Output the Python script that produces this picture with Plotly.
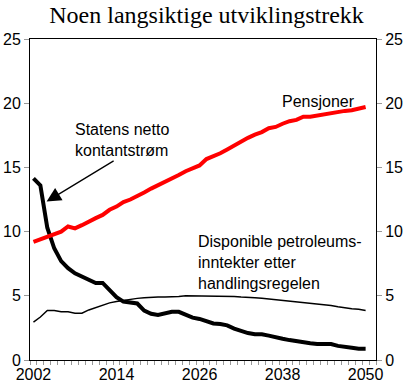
import plotly.graph_objects as go

years = list(range(2002, 2051))

pensjoner = [9.2, 9.4, 9.6, 9.8, 10.0, 10.4, 10.25, 10.5, 10.8, 11.05,
             11.3, 11.7, 11.95, 12.3, 12.5, 12.75, 13.05, 13.35, 13.6, 13.9,
             14.15, 14.4, 14.7, 14.95, 15.15, 15.65, 15.85, 16.1, 16.4, 16.7,
             17.05, 17.3, 17.55, 17.75, 18.05, 18.15, 18.4, 18.6, 18.7, 18.95,
             18.95, 19.05, 19.15, 19.25, 19.35, 19.4, 19.45, 19.6, 19.7]

statens_netto = [14.15, 13.6, 10.3, 8.7, 7.7, 7.15, 6.75, 6.5, 6.25, 6.0,
                 6.0, 5.5, 4.9, 4.55, 4.5, 4.4, 3.85, 3.6, 3.5, 3.65,
                 3.75, 3.75, 3.5, 3.3, 3.2, 3.05, 2.85, 2.8, 2.7, 2.45,
                 2.25, 2.1, 2.0, 2.0, 1.9, 1.75, 1.65, 1.55, 1.45, 1.4,
                 1.3, 1.25, 1.25, 1.25, 1.1, 1.0, 0.95, 0.88, 0.88]

disponible = [2.95, 3.35, 3.85, 3.85, 3.75, 3.75, 3.65, 3.65, 3.9, 4.1,
              4.3, 4.45, 4.55, 4.65, 4.75, 4.8, 4.85, 4.9, 4.9, 4.9,
              4.9, 4.95, 5.0, 5.0, 5.0, 5.0, 5.0, 5.0, 5.0, 4.95,
              4.9, 4.9, 4.85, 4.8, 4.75, 4.7, 4.65, 4.6, 4.55, 4.45,
              4.4, 4.4, 4.3, 4.25, 4.15, 4.05, 4.0, 3.95, 3.85]

x_tickvals = [2002, 2014, 2026, 2038, 2050]
y_tickvals = [0, 5, 10, 15, 20, 25]

fig = go.Figure()
fig.add_trace(go.Scatter(x=years, y=disponible, mode="lines",
                         line=dict(color="black", width=1.5), yaxis="y2",
                         name="Disponible petroleumsinntekter etter handlingsregelen"))
fig.add_trace(go.Scatter(x=years, y=statens_netto, mode="lines",
                         line=dict(color="black", width=4),
                         name="Statens netto kontantstrøm"))
fig.add_trace(go.Scatter(x=years, y=pensjoner, mode="lines",
                         line=dict(color="#ff0000", width=4),
                         name="Pensjoner"))

font = dict(family="Liberation Sans, Arial, sans-serif", size=16, color="black")

fig.update_layout(
    width=405, height=391,
    margin=dict(l=30, r=29, t=39, b=31, autoexpand=False),
    paper_bgcolor="white", plot_bgcolor="white",
    showlegend=False,
    font=font,
    title=dict(text="Noen langsiktige utviklingstrekk",
               font=dict(family="Liberation Serif, Times New Roman, serif", size=24, color="black"),
               x=0.51, xanchor="center", y=0.962, yanchor="middle", automargin=False),
    xaxis=dict(range=[2001.5, 2051.5], tickmode="array", tickvals=x_tickvals,
               ticks="", showgrid=False, zeroline=False, automargin=False,
               showline=True, linecolor="black", linewidth=1, mirror=True,
               tickfont=font,
               minor=dict(ticks="outside", ticklen=4, tick0=2001.5, dtick=1,
                          tickcolor="#999999", showgrid=False)),
    yaxis=dict(range=[0, 25], tickmode="array", tickvals=y_tickvals,
               ticks="outside", ticklen=5, tickcolor="#999999",
               showgrid=False, zeroline=False, automargin=False,
               showline=True, linecolor="black", linewidth=1, mirror=True,
               tickfont=font),
    yaxis2=dict(range=[0, 25], tickmode="array", tickvals=y_tickvals,
                overlaying="y", side="right", automargin=False,
                ticks="outside", ticklen=5, tickcolor="#999999",
                showgrid=False, zeroline=False, showline=False,
                tickfont=font),
)

fig.add_annotation(x=2048.8, y=20.1, xref="x", yref="y", text="Pensjoner",
                   showarrow=False, xanchor="right", yanchor="middle", font=font)
fig.add_annotation(x=2007.7, y=17.15, xref="x", yref="y",
                   text="Statens netto<br>kontantstrøm",
                   showarrow=False, xanchor="left", yanchor="middle", align="left", font=font)
fig.add_annotation(x=2025.5, y=7.63, xref="x", yref="y",
                   text="Disponible petroleums-<br>inntekter etter<br>handlingsregelen",
                   showarrow=False, xanchor="left", yanchor="middle", align="left", font=font)
fig.add_annotation(x=2003.9, y=12.34, xref="x", yref="y",
                   ax=2013.8, ay=15.58, axref="x", ayref="y",
                   text="", showarrow=True, arrowhead=2, arrowsize=2.2,
                   arrowwidth=1.3, arrowcolor="black")

fig.write_html("out.html", config={"displayModeBar": False},
               post_script="document.body.style.margin='0';")
